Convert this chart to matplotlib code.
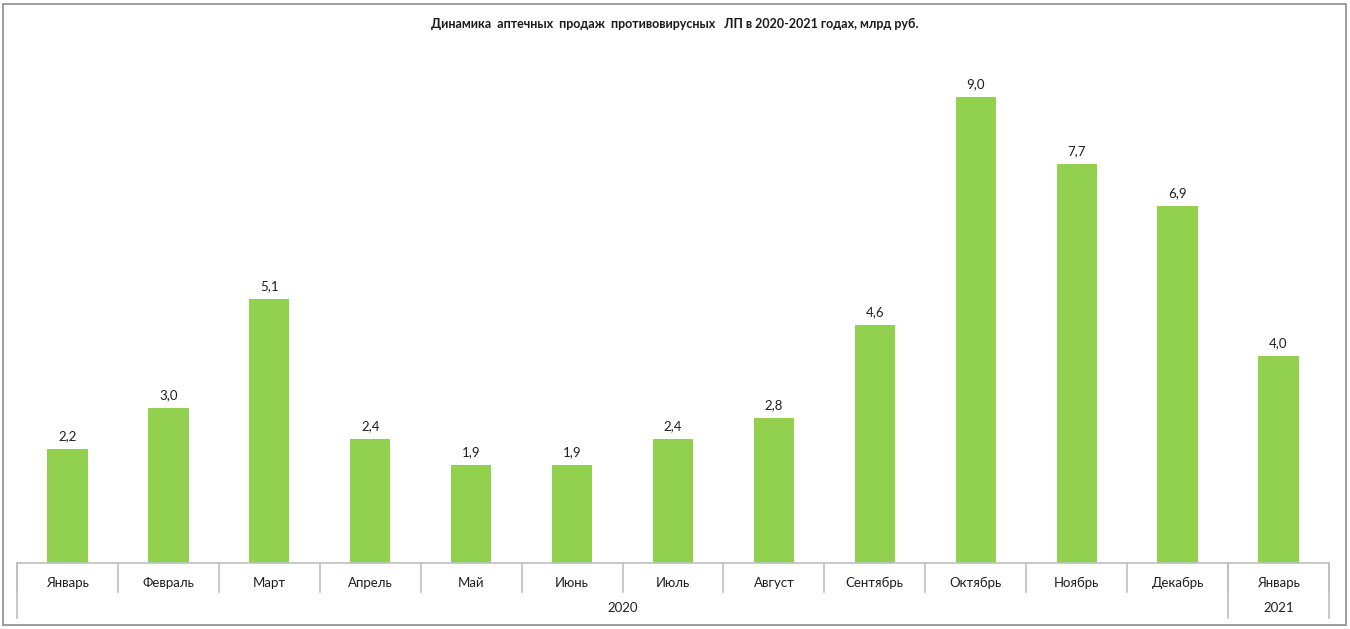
import matplotlib.pyplot as plt
from matplotlib.patches import Rectangle

months = ['Январь', 'Февраль', 'Март', 'Апрель', 'Май', 'Июнь', 'Июль',
          'Август', 'Сентябрь', 'Октябрь', 'Ноябрь', 'Декабрь', 'Январь']
sales = [2.2, 3.0, 5.1, 2.4, 1.9, 1.9, 2.4, 2.8, 4.6, 9.0, 7.7, 6.9, 4.0]
years = ['2020', '2021']
year_counts = [12, 1]

title = 'Динамика  аптечных  продаж  противовирусных   ЛП в 2020-2021 годах, млрд руб.'

plt.rcParams['font.family'] = ['Lato', 'DejaVu Sans']
W, H = 1350, 629
fig = plt.figure(figsize=(W / 100, H / 100), dpi=100)

# outer frame of the chart area
fig.patches.append(Rectangle((2.5 / W, 4 / H), 1343 / W, 621 / H, transform=fig.transFigure,
                             fill=False, edgecolor='#8c8c8c', linewidth=1.2))

left, right, bottom, top = 17, 1329, 563, 45
ax = fig.add_axes([left / W, 1 - bottom / H, (right - left) / W, (bottom - top) / H])

x = range(len(sales))
ax.bar(x, sales, width=0.4, color='#92D050')
for xi, v in zip(x, sales):
    ax.text(xi, v + 0.13, f'{v:.1f}'.replace('.', ','), ha='center', va='bottom',
            fontsize=9.5, color='#1f1f1f')

ax.set_xlim(-0.5, len(sales) - 0.5)
ax.set_ylim(0, 10)
ax.set_xticks([])
ax.set_yticks([])
for s in ['left', 'right', 'top']:
    ax.spines[s].set_visible(False)
ax.spines['bottom'].set_color('#bfbfbf')
ax.spines['bottom'].set_linewidth(1.2)

# two-level category axis drawn below the plot
trans = ax.get_xaxis_transform()
px = 1 / (bottom - top)  # one pixel in axes-fraction units
line_kw = dict(color='#bfbfbf', linewidth=1.2, transform=trans, clip_on=False)
for i in range(len(months) + 1):
    ax.plot([i - 0.5, i - 0.5], [0, -29 * px], **line_kw)
for i, m in enumerate(months):
    ax.text(i, -20 * px, m, ha='center', va='center', fontsize=9.5,
            color='#1f1f1f', transform=trans)

start = 0
for yr, n in zip(years, year_counts):
    ax.plot([start - 0.5, start - 0.5], [0, -55 * px], **line_kw)
    ax.text(start + (n - 1) / 2, -45 * px, yr, ha='center', va='center', fontsize=9.5,
            color='#1f1f1f', transform=trans)
    start += n
ax.plot([start - 0.5, start - 0.5], [0, -55 * px], **line_kw)

fig.text(0.5, 1 - 24 / H, title, ha='center', va='center', fontsize=9,
         fontweight='bold', color='#1a1a1a')

fig.savefig('out.png', dpi=100)
